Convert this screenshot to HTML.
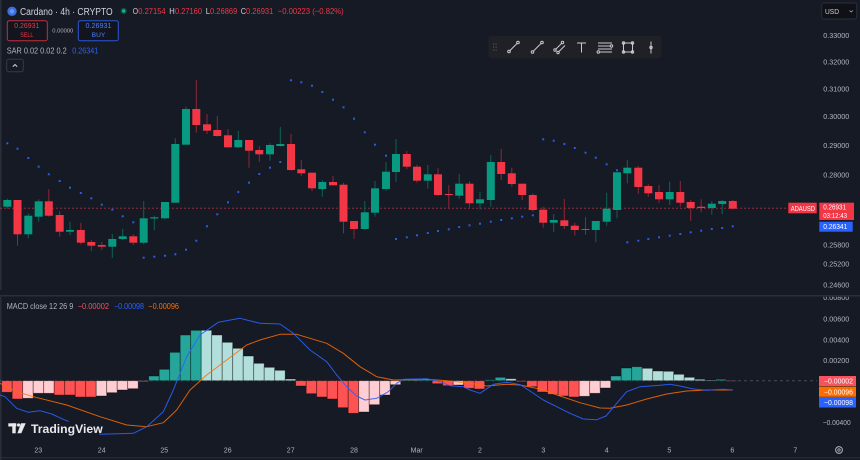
<!DOCTYPE html>
<html><head><meta charset="utf-8"><style>
html,body{margin:0;padding:0;background:#161a25;}
svg{display:block;font-family:"Liberation Sans",sans-serif;}
.r{fill:#f23645}.g{fill:#089981}.rw{fill:#8f2635}.gw{fill:#0b6356}
.hr{fill:#ff5252}.hp{fill:#ffcdd2}.hg{fill:#26a69a}.hl{fill:#b2dfdb}
.h rect{stroke:rgba(0,0,0,0.45);stroke-width:0.8}
.ax{fill:#b2b5be;font-size:7px}
.sar rect{fill:#2a5be0}
</style></head><body>
<svg width="860" height="460" viewBox="0 0 860 460" xmlns="http://www.w3.org/2000/svg">
<rect width="860" height="460" fill="#161a25"/>
<rect x="0" y="0" width="1.5" height="460" fill="#2a2e39"/>

<!-- price dashed line -->
<line x1="0" y1="208.2" x2="788" y2="208.2" stroke="#f23645" stroke-opacity="0.55" stroke-dasharray="2 2" stroke-width="1"/>

<!-- candles -->
<g>
<rect class="gw" x="6.8" y="198.7" width="1" height="10"/><rect class="g" x="3.3" y="200" width="8" height="6.7"/>
<rect class="rw" x="17" y="200" width="1" height="45.7"/><rect class="r" x="13.5" y="200" width="8" height="34.3"/>
<rect class="gw" x="27.8" y="213.3" width="1" height="25"/><rect class="g" x="24.3" y="215.7" width="8" height="18.6"/>
<rect class="gw" x="38.2" y="199.3" width="1" height="22.4"/><rect class="g" x="34.7" y="201.3" width="8" height="15.4"/>
<rect class="rw" x="48.3" y="189.3" width="1" height="27.4"/><rect class="r" x="44.8" y="201.3" width="8" height="14.4"/>
<rect class="rw" x="59.2" y="211" width="1" height="25.7"/><rect class="r" x="55.7" y="215" width="8" height="16.7"/>
<rect class="gw" x="69.5" y="221.7" width="1" height="13.3"/><rect class="g" x="66" y="230" width="8" height="1.7"/>
<rect class="rw" x="80.3" y="223" width="1" height="21.3"/><rect class="r" x="76.8" y="230" width="8" height="12.7"/>
<rect class="rw" x="90.8" y="240" width="1" height="11"/><rect class="r" x="87.3" y="242" width="8" height="3.7"/>
<rect class="rw" x="101.3" y="242" width="1" height="8"/><rect class="r" x="97.8" y="245" width="8" height="1.7"/>
<rect class="gw" x="111.8" y="234" width="1" height="23.7"/><rect class="g" x="108.3" y="239" width="8" height="7.7"/>
<rect class="gw" x="122.2" y="229" width="1" height="11"/><rect class="g" x="118.7" y="236.3" width="8" height="2.7"/>
<rect class="rw" x="132.8" y="234.3" width="1" height="10.7"/><rect class="r" x="129.3" y="236.3" width="8" height="6.4"/>
<rect class="gw" x="143.2" y="201" width="1" height="43.3"/><rect class="g" x="139.7" y="218.3" width="8" height="24.4"/>
<rect class="gw" x="153.8" y="215.7" width="1" height="14.3"/><rect class="g" x="150.3" y="217.3" width="8" height="1.2"/>
<rect class="gw" x="164.5" y="202" width="1" height="17.3"/><rect class="g" x="161" y="202" width="8" height="16.3"/>
<rect class="gw" x="174.8" y="138.3" width="1" height="64.4"/><rect class="g" x="171.3" y="144" width="8" height="58.7"/>
<rect class="gw" x="185.5" y="106.7" width="1" height="38"/><rect class="g" x="182" y="109" width="8" height="35.7"/>
<rect class="rw" x="195.8" y="80" width="1" height="52.7"/><rect class="r" x="192.3" y="109" width="8" height="16"/>
<rect class="rw" x="206.5" y="114" width="1" height="20"/><rect class="r" x="203" y="124.3" width="8" height="6.4"/>
<rect class="rw" x="216.8" y="116" width="1" height="20.7"/><rect class="r" x="213.3" y="130" width="8" height="6"/>
<rect class="rw" x="227.5" y="129" width="1" height="19"/><rect class="r" x="224" y="135.3" width="8" height="12"/>
<rect class="gw" x="237.8" y="130.7" width="1" height="17.3"/><rect class="g" x="234.3" y="140" width="8" height="7.3"/>
<rect class="rw" x="248.5" y="140" width="1" height="27.7"/><rect class="r" x="245" y="140" width="8" height="10.7"/>
<rect class="rw" x="258.8" y="146" width="1" height="15.7"/><rect class="r" x="255.3" y="150" width="8" height="4.3"/>
<rect class="gw" x="269.5" y="143.3" width="1" height="17.4"/><rect class="g" x="266" y="145" width="8" height="9.3"/>
<rect class="gw" x="279.8" y="127" width="1" height="19.7"/><rect class="g" x="276.3" y="144" width="8" height="2"/>
<rect class="rw" x="290.5" y="134" width="1" height="36.7"/><rect class="r" x="287" y="144" width="8" height="26"/>
<rect class="rw" x="300.8" y="160" width="1" height="16"/><rect class="r" x="297.3" y="169.3" width="8" height="4"/>
<rect class="rw" x="311.5" y="172.7" width="1" height="18.3"/><rect class="r" x="308" y="172.7" width="8" height="15.6"/>
<rect class="gw" x="321.8" y="180" width="1" height="16.7"/><rect class="g" x="318.3" y="182" width="8" height="7"/>
<rect class="rw" x="332.5" y="176" width="1" height="9.3"/><rect class="r" x="329" y="182" width="8" height="3.3"/>
<rect class="rw" x="343" y="182.7" width="1" height="50.6"/><rect class="r" x="339.5" y="184.7" width="8" height="37"/>
<rect class="rw" x="353.5" y="221" width="1" height="18"/><rect class="r" x="350" y="221" width="8" height="8"/>
<rect class="gw" x="364.3" y="201" width="1" height="28.7"/><rect class="g" x="360.8" y="212.3" width="8" height="16.7"/>
<rect class="gw" x="374.5" y="181" width="1" height="35.7"/><rect class="g" x="371" y="188.3" width="8" height="24.4"/>
<rect class="gw" x="385.5" y="162" width="1" height="29"/><rect class="g" x="382" y="171.7" width="8" height="17.3"/>
<rect class="gw" x="395.5" y="139" width="1" height="43"/><rect class="g" x="392" y="154" width="8" height="18"/>
<rect class="rw" x="406.3" y="151" width="1" height="18.3"/><rect class="r" x="402.8" y="154" width="8" height="12.7"/>
<rect class="rw" x="416.5" y="165" width="1" height="17.7"/><rect class="r" x="413" y="166.7" width="8" height="14"/>
<rect class="gw" x="427.3" y="165" width="1" height="23.7"/><rect class="g" x="423.8" y="174.3" width="8" height="6.4"/>
<rect class="rw" x="437.5" y="168.3" width="1" height="27.7"/><rect class="r" x="434" y="174.3" width="8" height="20.7"/>
<rect class="rw" x="448.3" y="185" width="1" height="23.3"/><rect class="r" x="444.8" y="194" width="8" height="1"/>
<rect class="gw" x="458.7" y="174" width="1" height="24.7"/><rect class="g" x="455.2" y="183.7" width="8" height="12"/>
<rect class="rw" x="469" y="181.3" width="1" height="26"/><rect class="r" x="465.5" y="183.7" width="8" height="19.6"/>
<rect class="gw" x="479.5" y="191.7" width="1" height="17.6"/><rect class="g" x="476" y="199.3" width="8" height="4"/>
<rect class="gw" x="490.3" y="155" width="1" height="51.7"/><rect class="g" x="486.8" y="162" width="8" height="38"/>
<rect class="rw" x="500.7" y="149" width="1" height="31"/><rect class="r" x="497.2" y="162" width="8" height="12"/>
<rect class="rw" x="511.3" y="167.7" width="1" height="19"/><rect class="r" x="507.8" y="173.3" width="8" height="10.7"/>
<rect class="rw" x="521.7" y="183.7" width="1" height="16.3"/><rect class="r" x="518.2" y="183.7" width="8" height="11.3"/>
<rect class="rw" x="532.3" y="193.3" width="1" height="18.4"/><rect class="r" x="528.8" y="195" width="8" height="15"/>
<rect class="rw" x="542.7" y="206.7" width="1" height="21"/><rect class="r" x="539.2" y="209.7" width="8" height="13"/>
<rect class="gw" x="553.2" y="214" width="1" height="18.3"/><rect class="g" x="549.7" y="220" width="8" height="2.7"/>
<rect class="rw" x="563.8" y="199" width="1" height="30"/><rect class="r" x="560.3" y="220.3" width="8" height="5.7"/>
<rect class="rw" x="574.3" y="222.7" width="1" height="13"/><rect class="r" x="570.8" y="225.7" width="8" height="4.3"/>
<rect class="gw" x="585" y="217" width="1" height="17.7"/><rect class="g" x="581.5" y="229" width="8" height="1"/>
<rect class="gw" x="595.3" y="221" width="1" height="21.3"/><rect class="g" x="591.8" y="221" width="8" height="9"/>
<rect class="gw" x="606.2" y="192.7" width="1" height="33"/><rect class="g" x="602.7" y="208.7" width="8" height="13"/>
<rect class="gw" x="616.5" y="172.3" width="1" height="46"/><rect class="g" x="613" y="172.3" width="8" height="37.7"/>
<rect class="gw" x="626.8" y="160" width="1" height="23.3"/><rect class="g" x="623.3" y="167.7" width="8" height="5.6"/>
<rect class="rw" x="637.8" y="166" width="1" height="27.7"/><rect class="r" x="634.3" y="167.7" width="8" height="19.3"/>
<rect class="rw" x="647.8" y="184.3" width="1" height="12.4"/><rect class="r" x="644.3" y="186" width="8" height="7.3"/>
<rect class="rw" x="658.5" y="185" width="1" height="17.7"/><rect class="r" x="655" y="192" width="8" height="7.3"/>
<rect class="gw" x="669.2" y="181.7" width="1" height="23.3"/><rect class="g" x="665.7" y="192" width="8" height="7.3"/>
<rect class="rw" x="679.8" y="181" width="1" height="25.7"/><rect class="r" x="676.3" y="192" width="8" height="10.7"/>
<rect class="rw" x="690.2" y="200" width="1" height="20.7"/><rect class="r" x="686.7" y="202" width="8" height="6"/>
<rect class="rw" x="700.7" y="199.3" width="1" height="13"/><rect class="r" x="697.2" y="206.7" width="8" height="1.3"/>
<rect class="gw" x="711.3" y="201" width="1" height="13.7"/><rect class="g" x="707.8" y="203.7" width="8" height="4.3"/>
<rect class="gw" x="721.7" y="200" width="1" height="14"/><rect class="g" x="718.2" y="201" width="8" height="3"/>
<rect class="rw" x="732.3" y="200" width="1" height="9.3"/><rect class="r" x="728.8" y="201" width="8" height="7.7"/>
</g>

<!-- SAR dots -->
<g class="sar">
<rect x="6.3" y="142.3" width="2" height="2"/><rect x="16.5" y="147.7" width="2" height="2"/><rect x="27.3" y="157" width="2" height="2"/><rect x="37.7" y="165.7" width="2" height="2"/><rect x="47.8" y="173.3" width="2" height="2"/><rect x="58.7" y="180" width="2" height="2"/><rect x="69" y="186.7" width="2" height="2"/><rect x="79.8" y="192" width="2" height="2"/><rect x="90.3" y="197.3" width="2" height="2"/><rect x="100.8" y="203.7" width="2" height="2"/><rect x="111.3" y="208.7" width="2" height="2"/><rect x="121.7" y="215.3" width="2" height="2"/><rect x="132.3" y="221.3" width="2" height="2"/>
<rect x="142.7" y="256.7" width="2" height="2"/><rect x="153.3" y="255.7" width="2" height="2"/><rect x="164" y="254.7" width="2" height="2"/><rect x="174.3" y="253.3" width="2" height="2"/><rect x="185" y="248.7" width="2" height="2"/><rect x="195.3" y="239.7" width="2" height="2"/><rect x="206" y="225.3" width="2" height="2"/><rect x="216.3" y="213.3" width="2" height="2"/><rect x="227" y="201.3" width="2" height="2"/><rect x="237.3" y="191" width="2" height="2"/><rect x="248" y="181.7" width="2" height="2"/><rect x="258.3" y="173" width="2" height="2"/><rect x="269" y="166.7" width="2" height="2"/><rect x="279.3" y="161" width="2" height="2"/>
<rect x="290" y="79.3" width="2" height="2"/><rect x="300.3" y="81.3" width="2" height="2"/><rect x="311" y="84.7" width="2" height="2"/><rect x="321.3" y="91" width="2" height="2"/><rect x="332" y="98.7" width="2" height="2"/><rect x="342.5" y="106.3" width="2" height="2"/><rect x="353" y="117.7" width="2" height="2"/><rect x="363.8" y="131.3" width="2" height="2"/><rect x="374" y="143.7" width="2" height="2"/><rect x="385" y="154.7" width="2" height="2"/>
<rect x="395" y="238" width="2" height="2"/><rect x="405.8" y="236.3" width="2" height="2"/><rect x="416" y="234.3" width="2" height="2"/><rect x="426.8" y="232" width="2" height="2"/><rect x="437" y="230" width="2" height="2"/><rect x="447.8" y="228.3" width="2" height="2"/><rect x="458.2" y="226" width="2" height="2"/><rect x="468.5" y="224.3" width="2" height="2"/><rect x="479" y="222.7" width="2" height="2"/><rect x="489.8" y="220.7" width="2" height="2"/><rect x="500.2" y="219" width="2" height="2"/><rect x="510.8" y="217.3" width="2" height="2"/><rect x="521.2" y="215.7" width="2" height="2"/><rect x="531.8" y="214.3" width="2" height="2"/>
<rect x="542.2" y="138.3" width="2" height="2"/><rect x="552.7" y="139.7" width="2" height="2"/><rect x="563.3" y="143" width="2" height="2"/><rect x="573.8" y="147" width="2" height="2"/><rect x="584.5" y="151.7" width="2" height="2"/><rect x="594.8" y="156.7" width="2" height="2"/><rect x="605.7" y="163.3" width="2" height="2"/><rect x="616" y="169.3" width="2" height="2"/>
<rect x="626.3" y="241.3" width="2" height="2"/><rect x="637.3" y="239.7" width="2" height="2"/><rect x="647.3" y="238" width="2" height="2"/><rect x="658" y="236.3" width="2" height="2"/><rect x="668.7" y="234.7" width="2" height="2"/><rect x="679.3" y="233" width="2" height="2"/><rect x="689.7" y="231.3" width="2" height="2"/><rect x="700.2" y="229.7" width="2" height="2"/><rect x="710.8" y="228" width="2" height="2"/><rect x="721.2" y="227" width="2" height="2"/><rect x="731.8" y="225.3" width="2" height="2"/>
</g>

<!-- header -->
<circle cx="12" cy="11.3" r="4.7" fill="#3b6fe0"/>
<circle cx="12" cy="11.3" r="2.2" fill="#6d95f0"/>
<text x="20" y="14.8" font-size="10" fill="#d1d4dc" textLength="92.7" lengthAdjust="spacingAndGlyphs">Cardano · 4h · CRYPTO</text>
<circle cx="123.7" cy="11" r="3.2" fill="#0d4a3e"/><circle cx="123.7" cy="11" r="1.7" fill="#22ab94"/>
<g font-size="8.5">
<text x="132.7" y="13.8" fill="#d1d4dc" textLength="5.3" lengthAdjust="spacingAndGlyphs">O</text>
<text x="138.3" y="13.8" fill="#f23645" textLength="27.3" lengthAdjust="spacingAndGlyphs">0.27154</text>
<text x="169.3" y="13.8" fill="#d1d4dc" textLength="5.5" lengthAdjust="spacingAndGlyphs">H</text>
<text x="175" y="13.8" fill="#f23645" textLength="27" lengthAdjust="spacingAndGlyphs">0.27160</text>
<text x="205.7" y="13.8" fill="#d1d4dc" textLength="4.3" lengthAdjust="spacingAndGlyphs">L</text>
<text x="210" y="13.8" fill="#f23645" textLength="27.3" lengthAdjust="spacingAndGlyphs">0.26869</text>
<text x="240.7" y="13.8" fill="#d1d4dc" textLength="5.3" lengthAdjust="spacingAndGlyphs">C</text>
<text x="246" y="13.8" fill="#f23645" textLength="27.3" lengthAdjust="spacingAndGlyphs">0.26931</text>
<text x="277.7" y="13.8" fill="#f23645" textLength="66" lengthAdjust="spacingAndGlyphs">−0.00223 (−0.82%)</text>
</g>

<!-- sell / buy -->
<rect x="7.3" y="20.7" width="40" height="20" rx="2" fill="#12151d" stroke="#c0303c" stroke-width="1"/>
<text x="26.8" y="28" font-size="7.5" fill="#f23645" text-anchor="middle" textLength="25" lengthAdjust="spacingAndGlyphs">0.26931</text>
<text x="26.8" y="36.8" font-size="6.5" fill="#f23645" text-anchor="middle" textLength="13" lengthAdjust="spacingAndGlyphs">SELL</text>
<text x="52.3" y="32.7" font-size="5.5" fill="#b2b5be" textLength="21" lengthAdjust="spacingAndGlyphs">0.00000</text>
<rect x="78.3" y="20.7" width="40" height="20" rx="2" fill="#12151d" stroke="#2c56d4" stroke-width="1"/>
<text x="98.5" y="28" font-size="7.5" fill="#4a7dff" text-anchor="middle" textLength="26" lengthAdjust="spacingAndGlyphs">0.26931</text>
<text x="98.5" y="36.8" font-size="6.5" fill="#4a7dff" text-anchor="middle" textLength="13.6" lengthAdjust="spacingAndGlyphs">BUY</text>

<text x="6.7" y="53.5" font-size="8" fill="#b2b5be" textLength="60" lengthAdjust="spacingAndGlyphs">SAR 0.02 0.02 0.2</text>
<text x="72.3" y="53.5" font-size="8" fill="#2962ff" textLength="26" lengthAdjust="spacingAndGlyphs">0.26341</text>

<rect x="6.7" y="59.3" width="16.6" height="12.4" rx="2" fill="none" stroke="#363a45" stroke-width="1"/>
<polyline points="12.8,66.6 15,64.6 17.2,66.6" fill="none" stroke="#d1d4dc" stroke-width="1"/>

<!-- toolbar -->
<rect x="488.3" y="36" width="173.4" height="22.3" rx="3" fill="#1f2127"/>
<g fill="#50535e"><rect x="493" y="43.5" width="1.2" height="1.2"/><rect x="495.5" y="43.5" width="1.2" height="1.2"/><rect x="493" y="46.5" width="1.2" height="1.2"/><rect x="495.5" y="46.5" width="1.2" height="1.2"/><rect x="493" y="49.5" width="1.2" height="1.2"/><rect x="495.5" y="49.5" width="1.2" height="1.2"/></g>
<g stroke="#c8cad0" stroke-width="1" fill="none">
<line x1="509.5" y1="51" x2="517.5" y2="43"/><circle cx="509" cy="51.5" r="1.3"/><circle cx="518" cy="42.5" r="1.3"/>
<line x1="533" y1="51.5" x2="541.5" y2="43"/><circle cx="532.5" cy="52" r="1.3"/><circle cx="542" cy="42.5" r="1.3"/>
<line x1="555.5" y1="49.5" x2="562" y2="43"/><line x1="558.5" y1="52" x2="565" y2="45.5"/><circle cx="555" cy="50" r="1.2"/><circle cx="562.5" cy="42.5" r="1.2"/><circle cx="558" cy="52.5" r="1.2"/>
<line x1="577" y1="43" x2="586" y2="43"/><line x1="581.5" y1="43" x2="581.5" y2="52.5"/>
<line x1="598" y1="43" x2="612" y2="43"/><line x1="598" y1="46" x2="610.5" y2="46"/><line x1="598" y1="49" x2="612" y2="49"/><line x1="599.5" y1="52" x2="612" y2="52"/><circle cx="611.5" cy="46" r="1.2"/><circle cx="598.3" cy="52" r="1.2"/>
<rect x="623.5" y="43" width="9" height="9"/><circle cx="623.5" cy="43" r="1.2"/><circle cx="632.5" cy="43" r="1.2"/><circle cx="623.5" cy="52" r="1.2"/><circle cx="632.5" cy="52" r="1.2"/>
<line x1="651" y1="41.5" x2="651" y2="53.5"/><circle cx="651" cy="47.5" r="1.2"/>
</g>

<!-- USD button -->
<rect x="821.7" y="3" width="35" height="16" rx="2" fill="#0f1117" stroke="#2a2e39"/>
<text x="825" y="14" font-size="7.5" fill="#d1d4dc" textLength="14" lengthAdjust="spacingAndGlyphs">USD</text>
<polyline points="849.5,10.5 851.2,12 852.9,10.5" fill="none" stroke="#b2b5be" stroke-width="0.8"/>

<!-- price axis -->
<g class="ax">
<text x="823.3" y="38.1" textLength="26" lengthAdjust="spacingAndGlyphs">0.33000</text>
<text x="823.3" y="64.7" textLength="26" lengthAdjust="spacingAndGlyphs">0.32000</text>
<text x="823.3" y="91.7" textLength="26" lengthAdjust="spacingAndGlyphs">0.31000</text>
<text x="823.3" y="119.1" textLength="26" lengthAdjust="spacingAndGlyphs">0.30000</text>
<text x="823.3" y="148.1" textLength="26" lengthAdjust="spacingAndGlyphs">0.29000</text>
<text x="823.3" y="177.4" textLength="26" lengthAdjust="spacingAndGlyphs">0.28000</text>
<text x="823.3" y="247.4" textLength="26" lengthAdjust="spacingAndGlyphs">0.25800</text>
<text x="823.3" y="266.7" textLength="26" lengthAdjust="spacingAndGlyphs">0.25200</text>
<text x="823.3" y="287.4" textLength="26" lengthAdjust="spacingAndGlyphs">0.24600</text>
</g>

<!-- price labels -->
<rect x="788.3" y="202.7" width="28.4" height="10.6" fill="#f23645"/>
<text x="790.7" y="211" font-size="7" fill="#ffffff" textLength="24.3" lengthAdjust="spacingAndGlyphs">ADAUSD</text>
<rect x="819.3" y="202.7" width="34.7" height="17.3" fill="#f23645"/>
<text x="823.3" y="209.6" font-size="7" fill="#ffffff" textLength="22.7" lengthAdjust="spacingAndGlyphs">0.26931</text>
<text x="823.3" y="218" font-size="7" fill="#ffffff" textLength="23.7" lengthAdjust="spacingAndGlyphs">03:12:43</text>
<rect x="819.3" y="221.7" width="33.4" height="10" fill="#2962ff"/>
<text x="823.3" y="229" font-size="7" fill="#ffffff" textLength="24" lengthAdjust="spacingAndGlyphs">0.26341</text>

<!-- MACD pane -->
<line x1="0" y1="380.7" x2="817" y2="380.7" stroke="#787b86" stroke-opacity="0.5" stroke-dasharray="3 3" stroke-width="1"/>
<g class="h">
<rect class="hr" x="1.7" y="380.7" width="10.5" height="11.6"/>
<rect class="hr" x="12.2" y="380.7" width="10.5" height="18.3"/>
<rect class="hp" x="22.7" y="380.7" width="10.5" height="17.6"/>
<rect class="hp" x="33.2" y="380.7" width="10.5" height="12.6"/>
<rect class="hp" x="43.7" y="380.7" width="10.5" height="12.6"/>
<rect class="hr" x="54.2" y="380.7" width="10.5" height="14.3"/>
<rect class="hr" x="64.7" y="380.7" width="10.5" height="14.3"/>
<rect class="hr" x="75.2" y="380.7" width="10.5" height="16.3"/>
<rect class="hr" x="85.7" y="380.7" width="10.5" height="16.3"/>
<rect class="hp" x="96.2" y="380.7" width="10.5" height="15.3"/>
<rect class="hp" x="106.7" y="380.7" width="10.5" height="12"/>
<rect class="hp" x="117.2" y="380.7" width="10.5" height="9.3"/>
<rect class="hp" x="127.7" y="380.7" width="10.5" height="8"/>
<rect class="hp" x="138.2" y="380.7" width="10.5" height="0.8"/>
<rect class="hg" x="148.7" y="376" width="10.5" height="4.7"/>
<rect class="hg" x="159.2" y="369.3" width="10.5" height="11.4"/>
<rect class="hg" x="169.7" y="352.3" width="10.5" height="28.4"/>
<rect class="hg" x="180.2" y="335" width="10.5" height="45.7"/>
<rect class="hg" x="190.7" y="330.3" width="10.5" height="50.4"/>
<rect class="hl" x="201.2" y="330.3" width="10.5" height="50.4"/>
<rect class="hl" x="211.7" y="335" width="10.5" height="45.7"/>
<rect class="hl" x="222.2" y="342.3" width="10.5" height="38.4"/>
<rect class="hl" x="232.7" y="348.3" width="10.5" height="32.4"/>
<rect class="hl" x="243.2" y="356" width="10.5" height="24.7"/>
<rect class="hl" x="253.7" y="363.3" width="10.5" height="17.4"/>
<rect class="hl" x="264.2" y="367.3" width="10.5" height="13.4"/>
<rect class="hl" x="274.7" y="370.3" width="10.5" height="10.4"/>
<rect class="hl" x="285.2" y="379" width="10.5" height="1.7"/>
<rect class="hr" x="295.7" y="380.7" width="10.5" height="5.3"/>
<rect class="hr" x="306.2" y="380.7" width="10.5" height="13"/>
<rect class="hr" x="316.7" y="380.7" width="10.5" height="16.3"/>
<rect class="hr" x="327.2" y="380.7" width="10.5" height="18.3"/>
<rect class="hr" x="337.7" y="380.7" width="10.5" height="27"/>
<rect class="hr" x="348.2" y="380.7" width="10.5" height="32.6"/>
<rect class="hp" x="358.7" y="380.7" width="10.5" height="31.3"/>
<rect class="hp" x="369.2" y="380.7" width="10.5" height="24"/>
<rect class="hp" x="379.7" y="380.7" width="10.5" height="14.3"/>
<rect class="hp" x="390.2" y="380.7" width="10.5" height="4"/>
<rect class="hg" x="400.7" y="379.3" width="10.5" height="1.4"/>
<rect class="hl" x="411.2" y="380" width="10.5" height="0.7"/>
<rect class="hg" x="421.7" y="379.3" width="10.5" height="1.4"/>
<rect class="hr" x="432.2" y="380.7" width="10.5" height="3"/>
<rect class="hr" x="442.7" y="380.7" width="10.5" height="5"/>
<rect class="hp" x="453.2" y="380.7" width="10.5" height="4.3"/>
<rect class="hr" x="463.7" y="380.7" width="10.5" height="7.6"/>
<rect class="hr" x="474.2" y="380.7" width="10.5" height="8.3"/>
<rect class="hg" x="484.7" y="379.7" width="10.5" height="1"/>
<rect class="hg" x="495.2" y="377.3" width="10.5" height="3.4"/>
<rect class="hl" x="505.7" y="378.7" width="10.5" height="2"/>
<rect class="hr" x="516.2" y="380.7" width="10.5" height="1"/>
<rect class="hr" x="526.7" y="380.7" width="10.5" height="6"/>
<rect class="hr" x="537.2" y="380.7" width="10.5" height="11.3"/>
<rect class="hr" x="547.7" y="380.7" width="10.5" height="13.6"/>
<rect class="hr" x="558.2" y="380.7" width="10.5" height="15.3"/>
<rect class="hr" x="568.7" y="380.7" width="10.5" height="16.3"/>
<rect class="hp" x="579.2" y="380.7" width="10.5" height="15.6"/>
<rect class="hp" x="589.7" y="380.7" width="10.5" height="12.6"/>
<rect class="hp" x="600.2" y="380.7" width="10.5" height="7.3"/>
<rect class="hg" x="610.7" y="376" width="10.5" height="4.7"/>
<rect class="hg" x="621.2" y="368" width="10.5" height="12.7"/>
<rect class="hg" x="631.7" y="366.7" width="10.5" height="14"/>
<rect class="hl" x="642.2" y="368.3" width="10.5" height="12.4"/>
<rect class="hl" x="652.7" y="371" width="10.5" height="9.7"/>
<rect class="hl" x="663.2" y="371.3" width="10.5" height="9.4"/>
<rect class="hl" x="673.7" y="374.3" width="10.5" height="6.4"/>
<rect class="hl" x="684.2" y="377.3" width="10.5" height="3.4"/>
<rect class="hl" x="694.7" y="379.3" width="10.5" height="1.4"/>
<rect class="hl" x="705.2" y="380" width="10.5" height="0.7"/>
<rect class="hg" x="715.7" y="379.3" width="10.5" height="1.4"/>
<rect class="hp" x="726.2" y="380.7" width="10.5" height="0.5"/>
</g>

<polyline fill="none" stroke="#ff6d00" stroke-width="1" stroke-linejoin="round" stroke-opacity="0.85" points="0,383.3 16.7,391.7 33.3,396.7 66.7,405 100,416.7 126.7,425 146.7,426.7 163.3,422.7 176.7,410 190,390 206.7,375 226.7,360 246.7,345 260,340 280,334.3 296.7,334.3 326.7,343.3 343.3,353.3 360,366.7 376.7,376.7 393.3,380 426.7,379.3 446.7,380.7 466.7,382.7 486.7,386 506.7,384.3 520,385 540,389 560,396 580,402.7 600,408 610,408.3 626.7,405 646.7,399 666.7,394 686.7,391 706.7,390 733,390"/>
<polyline fill="none" stroke="#2962ff" stroke-width="1" stroke-linejoin="round" stroke-opacity="0.9" points="0,395 5,396.7 16.7,408.3 28.3,412.3 40,410.7 51.7,414 63.3,419.3 71.7,422.7 85,429 100,434.3 133.3,433.3 146.7,426.7 163.3,411.7 173.3,390 186.7,356.7 200,335 218.3,322.3 240,318.3 260,323.3 280,324 293.3,333.3 310,350 326.7,361.7 336.7,375 346.7,386.7 356.7,396 365,400 376.7,398.3 388.3,391.7 396.7,383.3 403.3,379.3 426.7,378.7 440,381.7 450,385.7 463.3,386.7 470,390 480,393.3 493.3,384.3 506.7,382.3 520,384.6 530,391 543.3,400 556.7,406.7 570,413.3 583.3,419 596.7,419.7 606,416 616.7,403.3 626.7,391.7 640,386.7 660,385.3 670,384.3 680,386 693.3,389 706.7,390.3 723.3,389.3 733,390"/>

<!-- MACD legend -->
<text x="6.7" y="309" font-size="8" fill="#b2b5be" textLength="66.6" lengthAdjust="spacingAndGlyphs">MACD close 12 26 9</text>
<text x="77.7" y="309" font-size="8" fill="#f7525f" textLength="31.3" lengthAdjust="spacingAndGlyphs">−0.00002</text>
<text x="114" y="309" font-size="8" fill="#2962ff" textLength="30" lengthAdjust="spacingAndGlyphs">−0.00098</text>
<text x="148.3" y="309" font-size="8" fill="#ff6d00" textLength="30.7" lengthAdjust="spacingAndGlyphs">−0.00096</text>

<!-- MACD axis -->
<g class="ax">
<text x="823.3" y="300" textLength="26" lengthAdjust="spacingAndGlyphs">0.00800</text>
<text x="823.3" y="321.4" textLength="26" lengthAdjust="spacingAndGlyphs">0.00600</text>
<text x="823.3" y="342.4" textLength="26" lengthAdjust="spacingAndGlyphs">0.00400</text>
<text x="823.3" y="363.1" textLength="26" lengthAdjust="spacingAndGlyphs">0.00200</text>
<text x="822.7" y="425.1" textLength="28" lengthAdjust="spacingAndGlyphs">−0.00400</text>
</g>
<rect x="819" y="376" width="37" height="10" fill="#f7525f"/>
<text x="824" y="383.6" font-size="7" fill="#ffffff" textLength="29" lengthAdjust="spacingAndGlyphs">−0.00002</text>
<rect x="819" y="386.5" width="37" height="10.3" fill="#ff6d00"/>
<text x="824" y="394.3" font-size="7" fill="#ffffff" textLength="29" lengthAdjust="spacingAndGlyphs">−0.00096</text>
<rect x="819" y="397" width="37" height="10.5" fill="#2962ff"/>
<text x="824" y="405" font-size="7" fill="#ffffff" textLength="29" lengthAdjust="spacingAndGlyphs">−0.00098</text>

<!-- pane separator (covers top of cut label) -->
<rect x="0" y="290" width="860" height="6.8" fill="#161a25"/>
<line x1="0" y1="295.8" x2="860" y2="295.8" stroke="#2a2e39" stroke-width="1.5"/>

<!-- TradingView logo -->
<rect x="6" y="421.5" width="93" height="15.5" fill="#161a25"/>
<g fill="#e9e9ec">
<rect x="8.3" y="423.3" width="8" height="3.2"/>
<rect x="12.3" y="423.3" width="3.4" height="10"/>
<circle cx="18.6" cy="425" r="1.6"/>
<polygon points="21,423.3 25.7,423.3 21.3,433.3 17.4,433.3"/>
</g>
<text x="31" y="432.8" font-size="12" font-weight="bold" fill="#e9e9ec" textLength="71.7" lengthAdjust="spacingAndGlyphs">TradingView</text>

<!-- x axis -->
<g class="ax" text-anchor="middle">
<text x="38.3" y="452.5">23</text>
<text x="101.7" y="452.5">24</text>
<text x="164.3" y="452.5">25</text>
<text x="227.7" y="452.5">26</text>
<text x="290.7" y="452.5">27</text>
<text x="354" y="452.5">28</text>
<text x="416.7" y="452.5">Mar</text>
<text x="480" y="452.5">2</text>
<text x="543.3" y="452.5">3</text>
<text x="606.7" y="452.5">4</text>
<text x="669.3" y="452.5">5</text>
<text x="732.3" y="452.5">6</text>
<text x="795.3" y="452.5">7</text>
</g>
<!-- gear -->
<circle cx="839" cy="450" r="3.4" fill="none" stroke="#b2b5be" stroke-width="1"/>
<circle cx="839" cy="450" r="1.2" fill="none" stroke="#b2b5be" stroke-width="0.8"/>
<line x1="0" y1="457.8" x2="860" y2="457.8" stroke="#2a2e39" stroke-width="1"/>
</svg>
</body></html>
